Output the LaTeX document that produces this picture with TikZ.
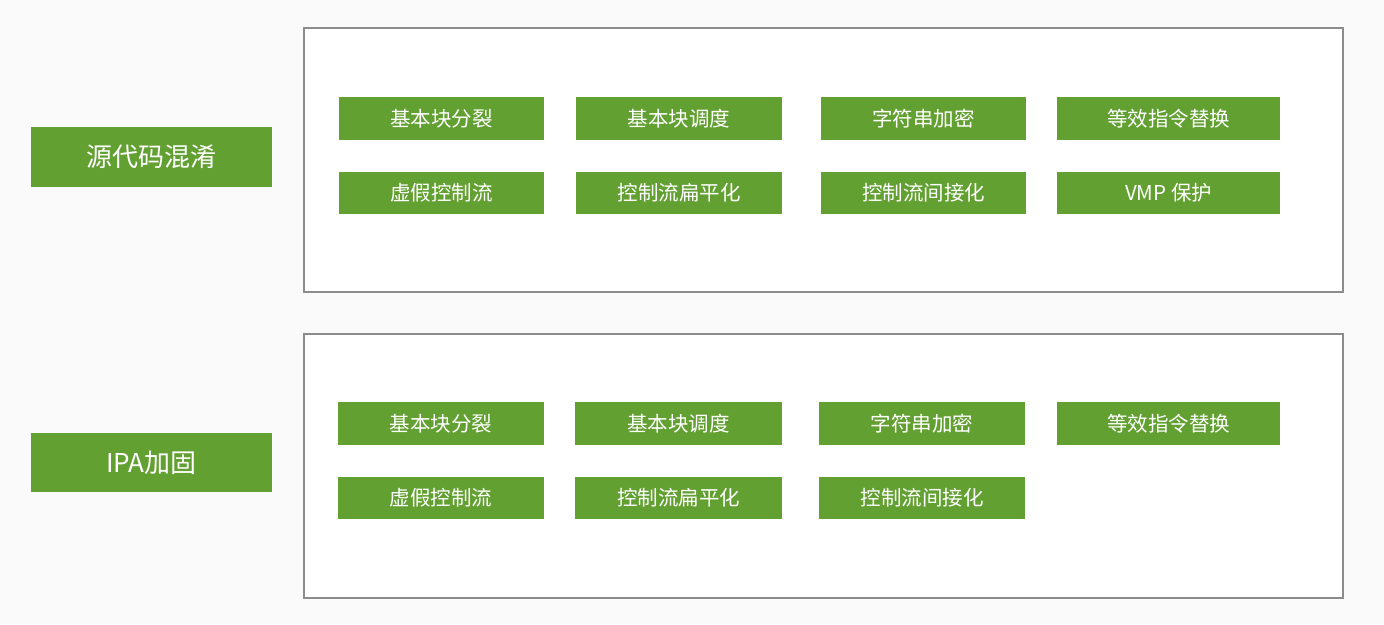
\documentclass[tikz,border=0pt]{standalone}
\usepackage{fontspec}
\setmainfont{Noto Sans CJK SC}
\definecolor{gr}{RGB}{99,160,50}
\definecolor{bg}{RGB}{250,250,250}
\definecolor{fr}{RGB}{140,140,140}
\begin{document}
\begin{tikzpicture}[x=1pt,y=-1pt,
  gbox/.style={fill=gr,draw=none,text=white,inner sep=0pt,font=\fontsize{20.5}{24}\selectfont},
  big/.style={gbox,font=\fontsize{26}{30}\selectfont},
  frame/.style={draw=fr,line width=1.2pt,fill=white}]
\fill[bg] (0,0) rectangle (1384,624);
\useasboundingbox (0,0) rectangle (1384,624);
% frames
\draw[frame] (304,28) rectangle (1343,292);
\draw[frame] (304,334) rectangle (1343,598);
% left labels
\node[big,minimum width=241pt,minimum height=60pt] (src) at (151.5,157) {源代码混淆};
\node[big,minimum width=241pt,minimum height=59pt] (ipa) at (151.5,462.5) {IPA加固};
% top grid
\path[gbox] (339,97) rectangle node (a1) {基本块分裂} (544,140);
\path[gbox] (576,97) rectangle node (a2) {基本块调度} (782,140);
\path[gbox] (821,97) rectangle node (a3) {字符串加密} (1026,140);
\path[gbox] (1057,97) rectangle node (a4) {等效指令替换} (1280,140);
\path[gbox] (339,172) rectangle node (a5) {虚假控制流} (544,214);
\path[gbox] (576,172) rectangle node (a6) {控制流扁平化} (782,214);
\path[gbox] (821,172) rectangle node (a7) {控制流间接化} (1026,214);
\path[gbox] (1057,172) rectangle node (a8) {VMP 保护} (1280,214);
% bottom grid
\path[gbox] (338,402) rectangle node (b1) {基本块分裂} (544,445);
\path[gbox] (575,402) rectangle node (b2) {基本块调度} (782,445);
\path[gbox] (819,402) rectangle node (b3) {字符串加密} (1025,445);
\path[gbox] (1057,402) rectangle node (b4) {等效指令替换} (1280,445);
\path[gbox] (338,477) rectangle node (b5) {虚假控制流} (544,519);
\path[gbox] (575,477) rectangle node (b6) {控制流扁平化} (782,519);
\path[gbox] (819,477) rectangle node (b7) {控制流间接化} (1025,519);
\end{tikzpicture}
\end{document}
